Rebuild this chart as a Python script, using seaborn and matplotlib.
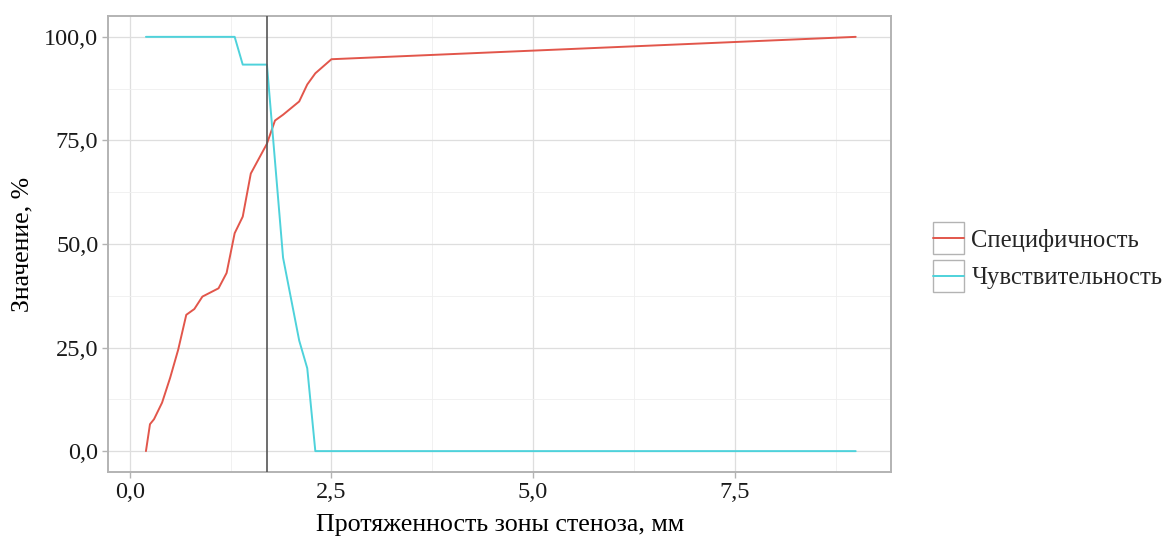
import matplotlib
matplotlib.use("Agg")
import matplotlib.pyplot as plt
import matplotlib.ticker as mticker
from matplotlib.legend_handler import HandlerLine2D
from matplotlib.patches import Rectangle
from matplotlib.lines import Line2D
import seaborn as sns
import pandas as pd

# ---- data ----
spec_x = [0.2, 0.25, 0.3, 0.4, 0.5, 0.6, 0.7, 0.8, 0.9, 1.1, 1.2, 1.3, 1.4, 1.5,
          1.7, 1.8, 1.9, 2.1, 2.2, 2.3, 2.5, 9.0]
spec_y = [0.0, 6.5, 7.7, 11.7, 17.7, 24.5, 32.9, 34.3, 37.3, 39.3, 43.0, 52.6, 56.6,
          67.0, 74.2, 79.8, 81.2, 84.4, 88.5, 91.2, 94.6, 100.0]
sens_x = [0.2, 1.3, 1.4, 1.7, 1.9, 2.1, 2.2, 2.3, 9.0]
sens_y = [100.0, 100.0, 93.3, 93.3, 46.7, 26.7, 20.0, 0.0, 0.0]
series_names = ["Специфичность", "Чувствительность"]
cutoff = 1.7
x_ticks = [0.0, 2.5, 5.0, 7.5]
y_ticks = [0, 25, 50, 75, 100]
x_label = "Протяженность зоны стеноза, мм"
y_label = "Значение, %"

df = pd.concat([
    pd.DataFrame({"x": spec_x, "y": spec_y, "s": series_names[0]}),
    pd.DataFrame({"x": sens_x, "y": sens_y, "s": series_names[1]}),
])

sns.set_theme(style="white")
plt.rcParams["font.family"] = ["Liberation Serif", "DejaVu Serif"]

colors = ["#E2564B", "#4ED2DB"]
fig = plt.figure(figsize=(11.68, 5.38), dpi=100)
ax = fig.add_axes([0.0925, 0.123, 0.763 - 0.0925, 0.970 - 0.123])

sns.lineplot(data=df, x="x", y="y", hue="s", palette=colors, ax=ax,
             estimator=None, sort=True, linewidth=1.4, legend=False, zorder=3)
ax.axvline(cutoff, color="#555555", lw=1.2, zorder=4)

ax.set_xlim(-0.27, 9.44)
ax.set_ylim(-5, 105)
ax.set_xticks(x_ticks)
ax.set_yticks(y_ticks)
ax.set_xticks([1.25, 3.75, 6.25, 8.75], minor=True)
ax.set_yticks([12.5, 37.5, 62.5, 87.5], minor=True)
fmt = mticker.FuncFormatter(lambda v, p: f"{v:.1f}".replace(".", ","))
ax.xaxis.set_major_formatter(fmt)
ax.yaxis.set_major_formatter(fmt)
ax.grid(which="major", color="#DEDEDE", lw=0.9, zorder=0)
ax.grid(which="minor", color="#EFEFEF", lw=0.6, zorder=0)
ax.set_axisbelow(True)
for sp in ax.spines.values():
    sp.set_visible(True)
    sp.set_color("#B3B3B3")
    sp.set_linewidth(1.4)
ax.tick_params(which="major", length=4, width=1, color="#B3B3B3",
               labelsize=17.5, labelcolor="#1A1A1A", bottom=True, left=True, pad=3)
ax.tick_params(which="minor", length=0)
ax.set_xlabel(x_label, fontsize=18.7, color="#000000", labelpad=8)
ax.set_ylabel(y_label, fontsize=18.5, color="#000000", labelpad=8)


class BoxedLine(HandlerLine2D):
    def create_artists(self, legend, orig_handle, xdescent, ydescent, width,
                       height, fontsize, trans):
        h = 32 / 1.389
        ymid = -ydescent + height / 2
        rect = Rectangle((-xdescent, ymid - h / 2), width, h,
                         facecolor="white", edgecolor="#B3B3B3", lw=1.0,
                         transform=trans)
        ln = Line2D([-xdescent, -xdescent + width], [ymid, ymid],
                    color=orig_handle.get_color(), lw=1.4, transform=trans)
        return [rect, ln]


handles = [Line2D([], [], color=c) for c in colors]
leg = fig.legend(handles, series_names, loc="center left",
                 bbox_to_anchor=(0.7797, 0.5185), frameon=False, fontsize=17.7,
                 handlelength=1.27, handletextpad=0.3, labelspacing=0.62,
                 handler_map={Line2D: BoxedLine()})

fig.savefig("out.png", dpi=100)
